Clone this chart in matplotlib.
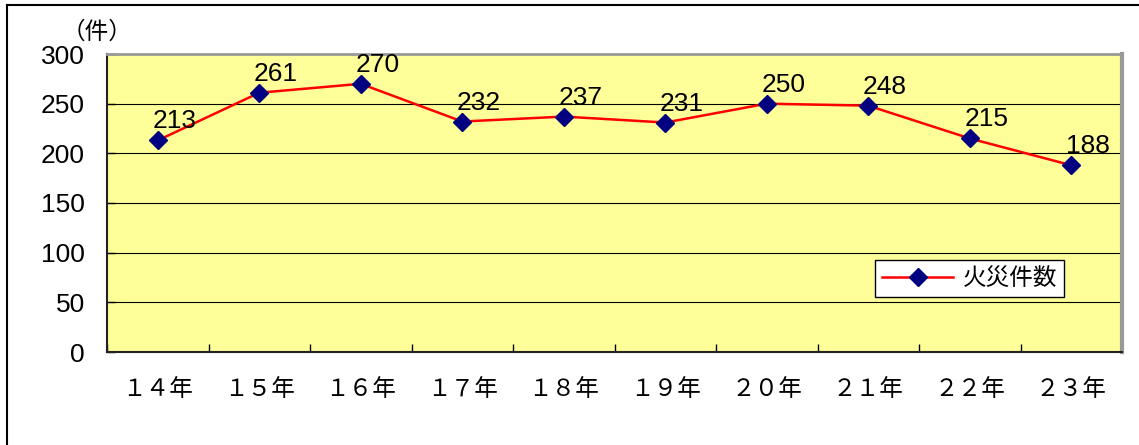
import matplotlib.pyplot as plt
from matplotlib.lines import Line2D

plt.rcParams['font.family'] = ['Liberation Sans', 'Noto Sans CJK JP', 'DejaVu Sans']

years = ['１４年', '１５年', '１６年', '１７年', '１８年',
         '１９年', '２０年', '２１年', '２２年', '２３年']
fires = [213, 261, 270, 232, 237, 231, 250, 248, 215, 188]
yticks = [0, 50, 100, 150, 200, 250, 300]

fig = plt.figure(figsize=(11.39, 4.45), dpi=100)
ax = fig.add_axes([107 / 1139, 1 - 352 / 445, 1015 / 1139, 298 / 445])
ax.set_facecolor('#FFFF99')

x = list(range(len(fires)))
ax.plot(x, fires, color='red', lw=1.8, marker='D', ms=9,
        mfc='#000080', mec='#000080', label='火災件数', zorder=3)
for xi, v in zip(x, fires):
    ax.annotate(str(v), (xi, v), xytext=(-4, 5), textcoords='offset points',
                ha='left', va='bottom', fontsize=19, zorder=4)

ax.set_xlim(-0.5, len(fires) - 0.5)
ax.set_ylim(0, 300)
ax.set_yticks(yticks)
ax.set_yticklabels([str(t) for t in yticks], fontsize=19)
ax.yaxis.grid(True, color='black', lw=0.8)
ax.set_axisbelow(True)

# category ticks on the boundaries, labels in the middle
ax.set_xticks([i - 0.5 for i in range(len(fires) + 1)])
ax.set_xticklabels([])
ax.set_xticks(x, minor=True)
ax.set_xticklabels(years, minor=True, fontsize=17,
                   family=['Noto Sans CJK JP'])
ax.tick_params(axis='x', which='major', direction='in', length=6, width=1)
ax.tick_params(axis='x', which='minor', length=0, pad=19)
ax.tick_params(axis='y', direction='in', length=6, width=1, pad=16)

ax.spines['left'].set_color('#222222')
ax.spines['bottom'].set_color('#222222')
ax.spines['left'].set_linewidth(1.5)
ax.spines['bottom'].set_linewidth(1.5)
ax.spines['top'].set_color('#999999')
ax.spines['right'].set_color('#999999')
ax.spines['top'].set_linewidth(2)
ax.spines['right'].set_linewidth(3)

leg = ax.legend(loc='upper left', bbox_to_anchor=(768 / 1015, (352 - 260) / 298),
                prop={'family': ['Noto Sans CJK JP'], 'size': 17},
                fancybox=False, framealpha=1, edgecolor='black',
                handlelength=3.0, handletextpad=0.4,
                borderpad=0.3, borderaxespad=0)
leg.get_frame().set_linewidth(1)

fig.text(62 / 1139, 1 - 32 / 445, '（件）', fontsize=17,
         family=['Noto Sans CJK JP'], ha='left', va='center')

# outer frame (top and left edges)
fig.add_artist(Line2D([7 / 1139, 1], [1 - 5 / 445, 1 - 5 / 445],
                      transform=fig.transFigure, color='black', lw=1.5))
fig.add_artist(Line2D([7 / 1139, 7 / 1139], [0, 1 - 5 / 445],
                      transform=fig.transFigure, color='black', lw=1.5))

fig.savefig('out.png', dpi=100)
